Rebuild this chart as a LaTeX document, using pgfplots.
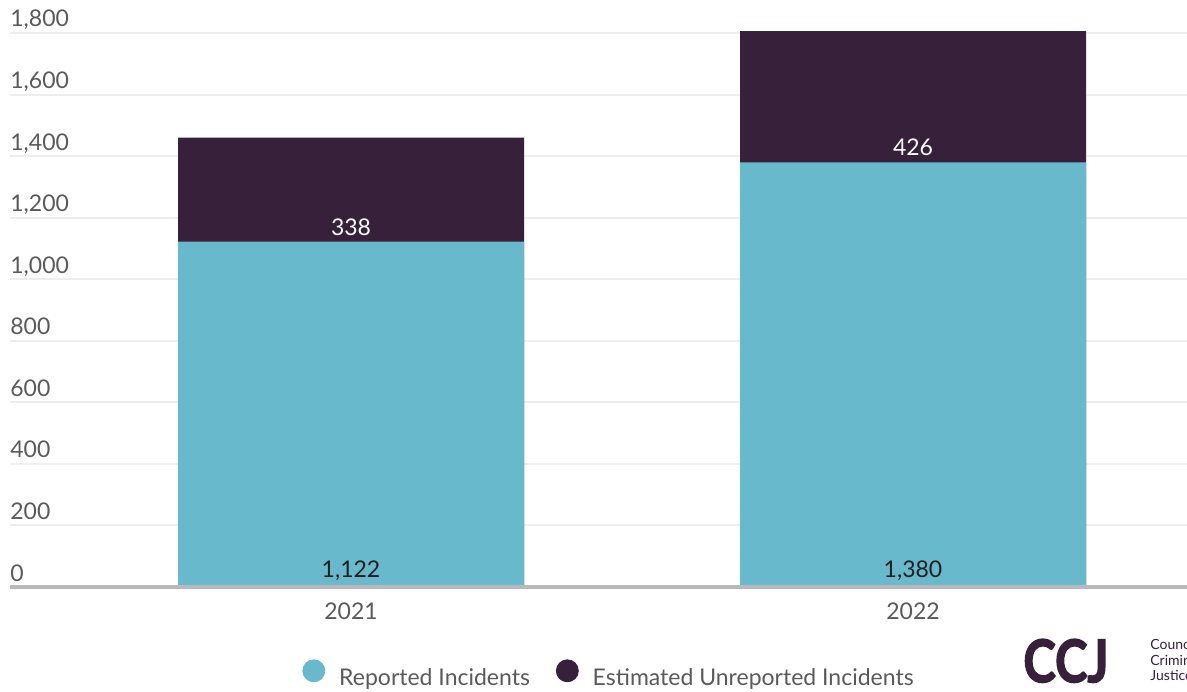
\documentclass[border=0pt]{standalone}
\usepackage{pgfplots}
\usepackage{pgfplotstable}
\pgfplotsset{compat=1.18}
\usepackage{fontspec}
\setmainfont{Lato}
\newfontfamily\logofont{Lato}[BoldFeatures={FakeBold=2.5}]
\definecolor{tealc}{HTML}{67B9CB}
\definecolor{darkc}{HTML}{37203A}
\definecolor{tickc}{HTML}{5A5A5A}
\definecolor{gridc}{HTML}{EEEEEE}
\definecolor{basec}{HTML}{B9B9BD}
\pgfplotstableread{
x rep unrep
0 1122 338
1 1380 426
}\datatable
\begin{document}
\begin{tikzpicture}
\useasboundingbox (0,0) rectangle (593.5pt,345.5pt);
\begin{axis}[
  at={(5pt,52pt)}, anchor=south west, scale only axis,
  width=588.5pt, height=277pt,
  xmin=-0.6068, xmax=1.4875, ymin=0, ymax=1800, clip=false,
  ytick={0,200,...,1800},
  xtick={0,1}, xticklabels={2021,2022},
  ymajorgrids, grid style={color=gridc, line width=1pt},
  axis line style={draw=none}, major tick length=0pt,
  tick label style={font=\fontsize{11.5}{13.8}\selectfont, text=tickc},
  yticklabel style={anchor=base west, inner sep=0pt, yshift=3pt},
  xticklabel style={anchor=base, inner sep=0pt, yshift=-16pt},
  /pgf/number format/1000 sep={,},
  /pgf/number format/assume math mode=true,
  legend columns=2,
  legend style={at={(0.5098,-0.1606)}, anchor=center, draw=none, fill=none,
    font=\fontsize{11.5}{13.8}\selectfont, text=tickc,
    /tikz/every even column/.append style={column sep=11pt}},
]
\addplot[ybar, bar width=173pt, bar shift=0pt, fill=darkc, draw=none, forget plot]
  table[x=x, y expr=\thisrow{rep}+\thisrow{unrep}] {\datatable};
\addplot[ybar, bar width=173pt, bar shift=0pt, fill=tealc, draw=none, forget plot]
  table[x=x, y=rep] {\datatable};
\draw[basec, line width=1.6pt] (rel axis cs:0,0) -- (rel axis cs:1,0);
\addplot[draw=none, mark=none, forget plot, point meta=explicit,
  nodes near coords,
  every node near coord/.append style={anchor=base, yshift=5pt, text=black!88, font=\fontsize{11.5}{13.8}\selectfont}]
  table[x=x, y expr=0, meta=rep] {\datatable};
\addplot[draw=none, mark=none, forget plot, point meta=explicit,
  nodes near coords,
  every node near coord/.append style={anchor=base, yshift=3.2pt, text=white, font=\fontsize{11.5}{13.8}\selectfont}]
  table[x=x, y=rep, meta=unrep] {\datatable};
\addlegendimage{legend image code/.code={\fill[tealc] (5.5pt,3.9pt) circle (5.5pt); \path (16pt,3.9pt);}}
\addlegendentry{Reported Incidents}
\addlegendimage{legend image code/.code={\fill[darkc] (5.5pt,3.9pt) circle (5.5pt); \path (16pt,3.9pt);}}
\addlegendentry{Estimated Unreported Incidents}
\end{axis}
\node[anchor=south west, inner sep=0pt, text=darkc] at (511.5pt,4pt)
  {\resizebox{42.5pt}{21.5pt}{\logofont\bfseries CCJ}};
\node[anchor=west, align=left, font=\fontsize{7}{7.75}\selectfont, text=darkc, inner sep=0pt]
  at (575pt,15.5pt) {Council on\\Criminal\\Justice};
\end{tikzpicture}
\end{document}
